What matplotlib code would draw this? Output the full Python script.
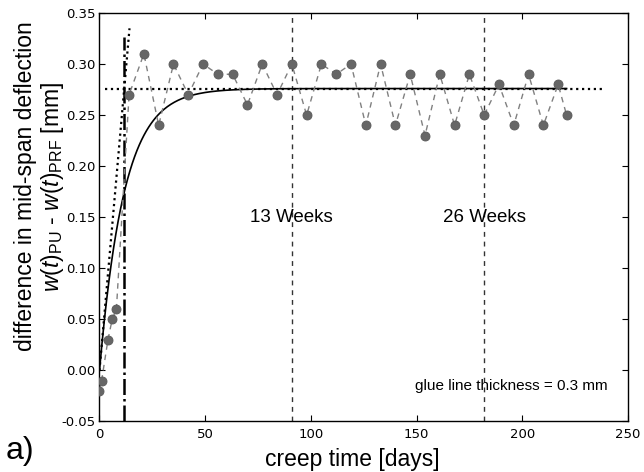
import numpy as np
import matplotlib
matplotlib.use("Agg")
import matplotlib.pyplot as plt

# Measured mid-span deflection difference (PU minus PRF glue line)
days = [0, 1, 4, 6, 8, 14, 21, 28, 35, 42, 49, 56, 63, 70, 77, 84, 91, 98,
        105, 112, 119, 126, 133, 140, 147, 154, 161, 168, 175, 182, 189,
        196, 203, 210, 217, 221]
deflection_diff = [-0.02, -0.01, 0.03, 0.05, 0.06, 0.27, 0.31, 0.24, 0.30,
                   0.27, 0.30, 0.29, 0.29, 0.26, 0.30, 0.27, 0.30, 0.25,
                   0.30, 0.29, 0.30, 0.24, 0.30, 0.24, 0.29, 0.23, 0.29,
                   0.24, 0.29, 0.25, 0.28, 0.24, 0.29, 0.24, 0.28, 0.25]

# Exponential fit  w = A * (1 - exp(-t / tau))
fit_amplitude = 0.276
fit_tau = 11.7

week_marks = [91, 182]
week_labels = ["13 Weeks", "26 Weeks"]

xticks = [0, 50, 100, 150, 200, 250]
yticks = [-0.05, 0.00, 0.05, 0.10, 0.15, 0.20, 0.25, 0.30, 0.35]

plt.rcParams["mathtext.fontset"] = "custom"
plt.rcParams["mathtext.rm"] = "Liberation Sans"
plt.rcParams["mathtext.it"] = "Liberation Sans:italic"
plt.rcParams["axes.unicode_minus"] = True

label_font = "Liberation Sans"

fig = plt.figure(figsize=(6.44, 4.72), dpi=100)
ax = fig.add_axes([0.1545, 0.107, 0.8205, 0.8655])

# fitted curve, asymptote and initial tangent
t_fit = np.linspace(0, days[-1], 400)
ax.plot(t_fit, fit_amplitude * (1 - np.exp(-t_fit / fit_tau)),
        color="black", lw=1.2, zorder=3)
ax.plot([2.5, 238], [fit_amplitude, fit_amplitude], color="black",
        lw=1.6, linestyle=":", zorder=3)
t_tan = np.array([0, 14.2])
ax.plot(t_tan, fit_amplitude * t_tan / fit_tau, color="black", lw=1.6,
        linestyle=":", zorder=3)
ax.plot([fit_tau, fit_tau], [-0.05, 0.326], color="black", lw=1.8,
        linestyle="-.", zorder=3)

# week markers
for xm, lab in zip(week_marks, week_labels):
    ax.axvline(xm, color="0.2", lw=1.0, dashes=(3.5, 3.5), zorder=2)
    ax.text(xm, 0.15, lab, ha="center", va="center", fontsize=13.5,
            family=label_font)

# measurements
ax.plot(days, deflection_diff, color="0.5", lw=1.0, dashes=(4, 3.5),
        marker="o", markersize=6.5, markerfacecolor="0.4",
        markeredgecolor="0.35", markeredgewidth=0.6, zorder=4)

ax.text(240.5, -0.015, "glue line thickness = 0.3 mm", ha="right",
        va="center", fontsize=11, family=label_font)

ax.set_xlim(0, 250)
ax.set_ylim(-0.05, 0.35)
ax.set_xticks(xticks)
ax.set_yticks(yticks)
ax.yaxis.set_major_formatter(matplotlib.ticker.FormatStrFormatter("%.2f"))
ax.tick_params(direction="in", top=True, right=True, length=4, width=0.8,
               labelsize=9.5)
ax.tick_params(axis="x", pad=5)
ax.tick_params(axis="y", pad=3)
for sp in ax.spines.values():
    sp.set_linewidth(1.0)

ax.set_xlabel("creep time [days]", fontsize=16.5, family=label_font)
ax.xaxis.set_label_coords(0.478, -0.065)
ax.set_ylabel("difference in mid-span deflection\n"
              r"$w(t)_{\mathrm{PU}}$ - $w(t)_{\mathrm{PRF}}$ [mm]",
              fontsize=16.5, family=label_font, linespacing=1.1)
ax.yaxis.set_label_coords(-0.063, 0.575)

fig.text(0.008, 0.012, "a)", fontsize=23, family=label_font,
         ha="left", va="bottom")

fig.savefig("out.png", dpi=100)
